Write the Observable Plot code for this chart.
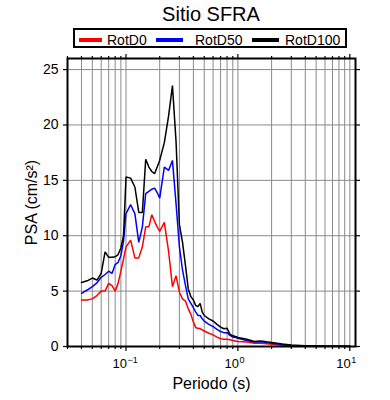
<!DOCTYPE html>
<html>
<head>
<meta charset="utf-8">
<script src="https://cdn.jsdelivr.net/npm/d3@7"></script>
<script src="https://cdn.jsdelivr.net/npm/@observablehq/plot@0.6"></script>
<style>
  body { margin: 0; background: #fff; font-family: "Liberation Sans", Arial, sans-serif; }
  #wrap { width: 390px; height: 400px; position: relative; }
  #head { position: relative; width: 390px; height: 50px; }
  #title { position: absolute; left: 67px; width: 288px; top: 2px; text-align: center; font-size: 20px; line-height: 24px; color: #000; }
  #legend { position: absolute; left: 73px; top: 28px; width: 270px; height: 16px; border: 2px solid #000; }
  .sw { position: absolute; height: 4px; top: 8px; }
  .lab { position: absolute; top: 2px; font-size: 14px; line-height: 16px; white-space: nowrap; }
  #chart svg { display: block; }
</style>
</head>
<body>
<div id="wrap">
  <div id="head">
    <div id="title"></div>
    <div id="legend"></div>
  </div>
  <div id="chart"></div>
</div>
<script>
const titleText = "Sitio SFRA";
const seriesNames = ["RotD0", "RotD50", "RotD100"];
const seriesColors = ["#ff0000", "#0000ff", "#000000"];

const periods = [0.04,0.045,0.05,0.055,0.06,0.065,0.07,0.075,0.08,0.085,0.09,0.095,
  0.1,0.11,0.12,0.13,0.14,0.15,0.16,0.17,0.18,0.19,0.2,0.22,0.24,0.26,0.28,0.3,
  0.32,0.34,0.36,0.38,0.4,0.42,0.44,0.46,0.48,0.5,0.55,0.6,0.65,0.7,0.75,0.8,0.85,
  0.9,0.95,1.0,1.2,1.4,1.6,1.8,2.0,2.5,3.0,4.0,5.0,6.0,8.0,10.0];

const rotD0 = [4.2,4.2,4.3,4.6,5.0,5.0,5.7,5.5,5.0,5.7,6.8,7.9,
  9.0,9.6,8.0,8.0,9.0,10.8,10.8,11.9,11.3,10.8,10.4,11.2,8.6,5.4,6.4,4.9,
  4.3,4.1,3.4,2.9,2.2,1.7,1.65,1.6,1.5,1.4,1.2,1.05,0.85,0.7,0.65,0.65,0.6,
  0.55,0.5,0.45,0.4,0.3,0.3,0.25,0.2,0.12,0.07,0.04,0.03,0.02,0.02,0.01];

const rotD50 = [4.8,5.1,5.4,5.75,6.25,6.5,6.8,6.6,7.4,7.6,8.2,9.5,
  12.0,12.8,12.0,9.4,10.8,13.8,14.0,14.2,14.3,13.9,13.4,16.2,15.9,16.8,12.9,9.0,
  6.9,5.5,4.3,3.9,3.5,3.1,2.8,2.8,2.5,2.3,2.0,1.8,1.55,1.35,1.25,1.25,1.0,
  0.85,0.8,0.75,0.55,0.4,0.42,0.35,0.3,0.17,0.1,0.06,0.04,0.03,0.02,0.02];

const rotD100 = [5.78,5.93,6.18,6.0,6.6,8.55,8.05,8.05,8.1,8.3,8.9,10.0,
  15.3,15.2,14.4,12.1,12.1,16.9,16.2,15.8,15.6,16.2,16.8,18.4,20.8,23.55,18.5,11.0,
  9.4,7.3,5.2,4.5,4.2,3.7,3.6,3.9,3.1,2.8,2.5,2.3,2.0,1.75,1.6,1.65,1.1,
  0.97,0.9,0.82,0.65,0.45,0.5,0.42,0.36,0.22,0.13,0.07,0.05,0.04,0.03,0.02];

const xMajor = [0.1, 1, 10];
const xMajorExp = ["\u22121", "0", "1"];
const xMinor = [0.03,0.04,0.05,0.06,0.07,0.08,0.09,0.2,0.3,0.4,0.5,0.6,0.7,0.8,0.9,
  2,3,4,5,6,7,8,9];
const xGrid = [0.04,0.05,0.06,0.07,0.08,0.09,0.1,0.2,0.3,0.4,0.5,0.6,0.7,0.8,0.9,1,
  2,3,4,5,6,7,8,9,10];
const yTicks = [0, 5, 10, 15, 20, 25];
const yGrid = [5, 10, 15, 20, 25];
const xLabel = "Periodo (s)";
const yLabel = "PSA (cm/s\u00b2)";

// header
document.getElementById("title").textContent = titleText;
const legend = document.getElementById("legend");
const legendLayout = [[4, 23, 32], [81, 27, 120], [177, 27, 210]];
seriesNames.forEach((name, i) => {
  const [l, w, t] = legendLayout[i];
  const sw = document.createElement("div");
  sw.className = "sw";
  sw.style.left = l + "px"; sw.style.width = w + "px"; sw.style.background = seriesColors[i];
  legend.appendChild(sw);
  const lab = document.createElement("div");
  lab.className = "lab";
  lab.style.left = t + "px";
  lab.textContent = name;
  legend.appendChild(lab);
});

const seriesValues = [rotD0, rotD50, rotD100];
const data = seriesValues.flatMap((vals, s) =>
  periods.map((p, i) => ({series: seriesNames[s], period: p, value: vals[i]})));

const chart = Plot.plot({
  width: 390,
  height: 350,
  marginLeft: 67,
  marginRight: 35,
  marginTop: 8,
  marginBottom: 54,
  style: {fontFamily: "'Liberation Sans', Arial, sans-serif", fontSize: "14px", background: "#fff"},
  x: {type: "log", domain: [0.03, 11.24], axis: null},
  y: {domain: [0, 26], axis: null},
  color: {domain: seriesNames, range: seriesColors},
  marks: [
    Plot.ruleX(xGrid, {x: d => d, stroke: "#8a8a8a", strokeWidth: 1}),
    Plot.ruleY(yGrid, {y: d => d, stroke: "#8a8a8a", strokeWidth: 1}),
    Plot.line(data, {x: "period", y: "value", z: "series", stroke: "series", strokeWidth: 1.5, strokeLinejoin: "miter"}),
    Plot.frame({stroke: "#000", strokeWidth: 2}),
    Plot.axisX(xMajor, {anchor: "bottom", tickSize: 5, tickFormat: () => "", label: null, strokeWidth: 1.2}),
    Plot.axisX(xMinor, {anchor: "bottom", tickSize: 3, tickFormat: () => "", label: null, strokeWidth: 1.2}),
    Plot.axisX(xMajor, {anchor: "top", tickSize: 5, tickFormat: () => "", label: null, strokeWidth: 1.2}),
    Plot.axisX(xMinor, {anchor: "top", tickSize: 3, tickFormat: () => "", label: null, strokeWidth: 1.2}),
    Plot.axisY(yTicks, {anchor: "left", tickSize: 4, tickPadding: 5, fontSize: 14, label: null, strokeWidth: 1.2}),
    Plot.axisY(yTicks, {anchor: "right", tickSize: 4, tickFormat: () => "", label: null, strokeWidth: 1.2}),
    Plot.text(xMajor, {x: d => d, text: () => "10", frameAnchor: "bottom", textAnchor: "end", dx: 1, dy: 17.3, fontSize: 13, lineAnchor: "middle", fill: "#000"}),
    Plot.text(xMajor, {x: d => d, text: (d, i) => xMajorExp[i], frameAnchor: "bottom", textAnchor: "start", dx: 1.5, dy: 13.8, fontSize: 9, lineAnchor: "middle", fill: "#000"}),
    Plot.text([xLabel], {text: d => d, frameAnchor: "bottom", textAnchor: "middle", dy: 37, fontSize: 16, lineAnchor: "middle", fill: "#000"}),
    Plot.text([yLabel], {text: d => d, frameAnchor: "left", textAnchor: "middle", rotate: -90, dx: -36, fontSize: 16, lineAnchor: "middle", fill: "#000"})
  ]
});
document.getElementById("chart").appendChild(chart);
</script>
</body>
</html>
